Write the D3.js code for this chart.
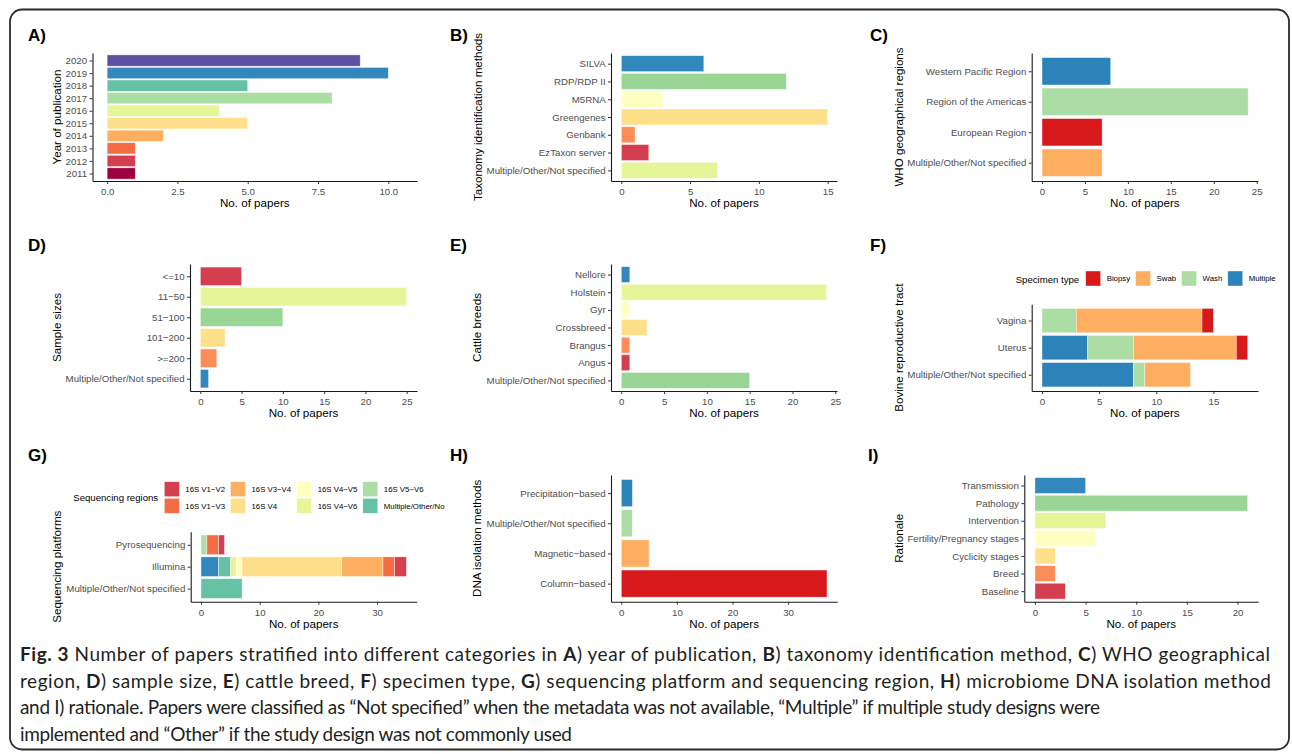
<!DOCTYPE html>
<html>
<head>
<meta charset="utf-8">
<script src="https://cdn.jsdelivr.net/npm/d3@7"></script>
<style>
  body { margin: 0; background: #fff; }
  svg { display: block; }
  text { font-family: "Liberation Sans", Arial, Helvetica, sans-serif; }
  text.caption { font-family: Lato, "Open Sans", sans-serif; }
</style>
</head>
<body>
<div id="fig"></div>
<script>
// ---- data ----
const yearCats = ["2020", "2019", "2018", "2017", "2016", "2015", "2014", "2013", "2012", "2011"];
const yearVals = [9, 10, 5, 8, 4, 5, 2, 1, 1, 1];
const yearTicks = [0, 2.5, 5, 7.5, 10];

const taxCats = ["SILVA", "RDP/RDP II", "M5RNA", "Greengenes", "Genbank", "EzTaxon server", "Multiple/Other/Not specified"];
const taxVals = [6, 12, 3, 15, 1, 2, 7];
const taxTicks = [0, 5, 10, 15];

const whoCats = ["Western Pacific Region", "Region of the Americas", "European Region", "Multiple/Other/Not specified"];
const whoVals = [8, 24, 7, 7];
const whoTicks = [0, 5, 10, 15, 20, 25];

const sizeCats = ["<=10", "11\u221250", "51\u2212100", "101\u2212200", ">=200", "Multiple/Other/Not specified"];
const sizeVals = [5, 25, 10, 3, 2, 1];
const sizeTicks = [0, 5, 10, 15, 20, 25];

const breedCats = ["Nellore", "Holstein", "Gyr", "Crossbreed", "Brangus", "Angus", "Multiple/Other/Not specified"];
const breedVals = [1, 24, 1, 3, 1, 1, 15];
const breedTicks = [0, 5, 10, 15, 20, 25];

const tractCats = ["Vagina", "Uterus", "Multiple/Other/Not specified"];
const specimenTypes = ["Biopsy", "Swab", "Wash", "Multiple"];
const biopsyVals = [1, 1, 0];
const swabVals = [11, 9, 4];
const washVals = [3, 4, 1];
const multiSpecVals = [0, 4, 8];
const tractTicks = [0, 5, 10, 15];

const platformCats = ["Pyrosequencing", "Illumina", "Multiple/Other/Not specified"];
const regionNames = ["16S V1\u2212V2", "16S V1\u2212V3", "16S V3\u2212V4", "16S V4", "16S V4\u2212V5",
                     "16S V4\u2212V6", "16S V5\u2212V6", "Multiple/Other/Not specified", "16S V6\u2212V8"];
const regionVals = [
  [1, 2, 0],   // V1-V2
  [2, 2, 0],   // V1-V3
  [0, 7, 0],   // V3-V4
  [0, 17, 0],  // V4
  [0, 1, 0],   // V4-V5
  [0, 1, 0],   // V4-V6
  [1, 0, 0],   // V5-V6
  [0, 2, 7],   // Multiple/Other/Not specified
  [0, 3, 0]    // last level (its legend entry is cut off in the figure)
];
const platformTicks = [0, 10, 20, 30];

const dnaCats = ["Precipitation\u2212based", "Multiple/Other/Not specified", "Magnetic\u2212based", "Column\u2212based"];
const dnaVals = [2, 2, 5, 37];
const dnaTicks = [0, 10, 20, 30];

const ratCats = ["Transmission", "Pathology", "Intervention", "Fertility/Pregnancy stages", "Cyclicity stages", "Breed", "Baseline"];
const ratVals = [5, 21, 7, 6, 2, 2, 3];
const ratTicks = [0, 5, 10, 15, 20];

const captionLines = [
  [["Fig. 3", 1], [" Number of papers stratified into different categories in ", 0], ["A", 1], [") year of publication, ", 0],
   ["B", 1], [") taxonomy identification method, ", 0], ["C", 1], [") WHO geographical", 0]],
  [["region, ", 0], ["D", 1], [") sample size, ", 0], ["E", 1], [") cattle breed, ", 0], ["F", 1], [") specimen type, ", 0],
   ["G", 1], [") sequencing platform and sequencing region, ", 0], ["H", 1], [") microbiome DNA isolation method", 0]],
  [["and I) rationale. Papers were classified as \u201cNot specified\u201d when the metadata was not available, \u201cMultiple\u201d if multiple study designs were", 0]],
  [["implemented and \u201cOther\u201d if the study design was not commonly used", 0]]
];

// ---- colours (RColorBrewer Spectral) ----
const yearColors = ["#5E4FA2", "#3288BD", "#66C2A5", "#ABDDA4", "#E6F598", "#FEE08B", "#FDAE61", "#F46D43", "#D53E4F", "#9E0142"];
const taxColors = ["#3288BD", "#99D594", "#FFFFBF", "#FEE08B", "#FC8D59", "#D53E4F", "#E6F598"];
const whoColors = ["#2B83BA", "#ABDDA4", "#D7191C", "#FDAE61"];
const sizeColors = ["#D53E4F", "#E6F598", "#99D594", "#FEE08B", "#FC8D59", "#3288BD"];
const breedColors = ["#3288BD", "#E6F598", "#FFFFBF", "#FEE08B", "#FC8D59", "#D53E4F", "#99D594"];
const specimenColors = ["#D7191C", "#FDAE61", "#ABDDA4", "#2B83BA"];
const regionColors = ["#D53E4F", "#F46D43", "#FDAE61", "#FEE08B", "#FFFFBF", "#E6F598", "#ABDDA4", "#66C2A5", "#3288BD"];
const dnaColors = ["#2B83BA", "#ABDDA4", "#FDAE61", "#D7191C"];
const ratColors = ["#3288BD", "#99D594", "#E6F598", "#FFFFBF", "#FEE08B", "#FC8D59", "#D53E4F"];

const W = 1292, H = 754;
const svg = d3.select("#fig").append("svg").attr("width", W).attr("height", H);

// outer frame
svg.append("rect")
  .attr("x", 10).attr("y", 9.5).attr("width", 1279).attr("height", 740)
  .attr("rx", 12).attr("fill", "none").attr("stroke", "#2b2b2b").attr("stroke-width", 1.8);

const tickCol = "#4D4D4D";

function drawPanel(p) {
  const g = svg.append("g");

  // panel letter
  g.append("text").attr("x", p.labelX).attr("y", p.labelY)
    .attr("font-size", 17).attr("font-weight", "bold").attr("fill", "#000").text(p.label);

  const x = d3.scaleLinear().domain(p.xDomain).range([p.left, p.right]);
  const y = d3.scalePoint().domain(p.cats).range([p.top, p.bottom]).padding(0.6);
  const bh = y.step() * 0.9;

  // rows for stacking
  const rows = p.cats.map((c, i) => {
    const r = { cat: c, idx: i };
    p.keys.forEach((k, j) => { r[k] = p.series[j][i]; });
    return r;
  });
  const layers = d3.stack().keys(p.stackOrder)(rows);

  g.append("g").selectAll("g").data(layers).join("g")
    .each(function (layer) {
      const key = layer.key;
      d3.select(this).selectAll("rect")
        .data(layer.filter(d => d[1] - d[0] > 0))
        .join("rect")
        .attr("x", d => x(d[0]))
        .attr("width", d => x(d[1]) - x(d[0]))
        .attr("y", d => y(d.data.cat) - bh / 2)
        .attr("height", bh)
        .attr("fill", d => p.catColors ? p.catColors[d.data.idx] : p.keyColors[p.keys.indexOf(key)])
        .attr("stroke", "#fff").attr("stroke-opacity", 0.7).attr("stroke-width", 0.6);
    });

  // axes
  const xa = g.append("g").attr("transform", `translate(0,${p.bottom})`)
    .call(d3.axisBottom(x).tickValues(p.ticks).tickFormat(p.fmt || d3.format("d"))
      .tickSize(3).tickSizeOuter(0).tickPadding(4.2));
  const ya = g.append("g").attr("transform", `translate(${p.left},0)`)
    .call(d3.axisLeft(y).tickSize(3).tickSizeOuter(0).tickPadding(2.4));

  [xa, ya].forEach(a => {
    a.attr("font-family", null).attr("font-size", null);
    a.select(".domain").attr("stroke", "#1a1a1a").attr("stroke-width", 1.1);
    a.selectAll(".tick line").attr("stroke", "#333").attr("stroke-width", 1);
    a.selectAll(".tick text").attr("fill", tickCol).attr("font-size", 9.7);
  });

  // axis titles
  g.append("text").attr("x", (p.left + p.right) / 2).attr("y", p.bottom + 26)
    .attr("text-anchor", "middle").attr("font-size", 11.6).attr("fill", "#000").text("No. of papers");
  g.append("text")
    .attr("transform", `translate(${p.titleX},${(p.top + p.bottom) / 2}) rotate(-90)`)
    .attr("dy", "0.35em").attr("text-anchor", "middle").attr("font-size", 11.6).attr("fill", "#000")
    .text(p.yTitle);
}

// legend: rows x columns, filled column by column; entries past `clip` are cut like in the figure
function drawLegend(l) {
  const g = svg.append("g");
  const limit = l.clip || W;
  g.append("text").attr("x", l.x).attr("y", l.titleY)
    .attr("font-size", 9.6).attr("fill", "#000").text(l.title);
  const nCols = Math.ceil(l.names.length / l.rows);
  let cx = l.keyX;
  for (let c = 0; c < nCols; c++) {
    if (cx >= limit) break;
    let maxW = 0;
    for (let r = 0; r < l.rows; r++) {
      const i = c * l.rows + r;
      if (i >= l.names.length) break;
      const ky = l.keyY + r * l.rowStep;
      g.append("rect").attr("x", cx).attr("y", ky).attr("width", l.key).attr("height", l.key)
        .attr("fill", l.colors[i]).attr("stroke", "#fff").attr("stroke-opacity", 0.7).attr("stroke-width", 0.6);
      const lx = cx + l.key + 6;
      const t = g.append("text").attr("x", lx).attr("y", ky + l.key / 2)
        .attr("dy", "0.35em").attr("font-size", 7.8).attr("fill", "#000").text(l.names[i]);
      maxW = Math.max(maxW, t.node().getComputedTextLength());
      // cut the label at the panel edge
      let s = l.names[i];
      while (s.length > 0 && lx + t.node().getComputedTextLength() > limit) {
        s = s.slice(0, -1);
        t.text(s);
      }
    }
    cx += l.key + 6 + maxW + 5.5;
  }
}

const fmt1 = d3.format(".1f");

drawPanel({ label: "A)", labelX: 28, labelY: 41, cats: yearCats, keys: ["n"], series: [yearVals], stackOrder: ["n"],
  catColors: yearColors, ticks: yearTicks, fmt: fmt1, xDomain: [-0.52, 11.02],
  left: 92.5, right: 417, top: 53, bottom: 181, titleX: 57, yTitle: "Year of publication" });

drawPanel({ label: "B)", labelX: 450, labelY: 41, cats: taxCats, keys: ["n"], series: [taxVals], stackOrder: ["n"],
  catColors: taxColors, ticks: taxTicks, xDomain: [-0.75, 15.68],
  left: 611, right: 837, top: 53, bottom: 181, titleX: 478, yTitle: "Taxonomy identification methods" });

drawPanel({ label: "C)", labelX: 870, labelY: 41, cats: whoCats, keys: ["n"], series: [whoVals], stackOrder: ["n"],
  catColors: whoColors, ticks: whoTicks, xDomain: [-1.2, 25.15],
  left: 1031.7, right: 1258, top: 53, bottom: 181, titleX: 899, yTitle: "WHO geographical regions" });

drawPanel({ label: "D)", labelX: 28, labelY: 251, cats: sizeCats, keys: ["n"], series: [sizeVals], stackOrder: ["n"],
  catColors: sizeColors, ticks: sizeTicks, xDomain: [-1.25, 26.25],
  left: 190, right: 417, top: 264, bottom: 391, titleX: 57, yTitle: "Sample sizes" });

drawPanel({ label: "E)", labelX: 450, labelY: 251, cats: breedCats, keys: ["n"], series: [breedVals], stackOrder: ["n"],
  catColors: breedColors, ticks: breedTicks, xDomain: [-1.2, 25.2],
  left: 611, right: 837, top: 264, bottom: 391, titleX: 477, yTitle: "Cattle breeds" });

drawPanel({ label: "F)", labelX: 870, labelY: 251, cats: tractCats, keys: specimenTypes,
  series: [biopsyVals, swabVals, washVals, multiSpecVals], stackOrder: specimenTypes.slice().reverse(),
  keyColors: specimenColors, ticks: tractTicks, xDomain: [-0.9, 18.9],
  left: 1031.7, right: 1258, top: 304.3, bottom: 391, titleX: 899, yTitle: "Bovine reproductive tract" });
drawLegend({ title: "Specimen type", names: specimenTypes, colors: specimenColors, rows: 1,
  x: 1015.7, titleY: 282.5, keyX: 1085.7, keyY: 271, key: 15, rowStep: 16.6 });

drawPanel({ label: "G)", labelX: 28, labelY: 461, cats: platformCats, keys: regionNames,
  series: regionVals, stackOrder: regionNames.slice().reverse(),
  keyColors: regionColors, ticks: platformTicks, xDomain: [-1.75, 36.75],
  left: 190.7, right: 416.7, top: 531.7, bottom: 601.7, titleX: 57, yTitle: "Sequencing platforms" });
drawLegend({ clip: 446, title: "Sequencing regions", names: regionNames, colors: regionColors, rows: 2,
  x: 73.3, titleY: 501, keyX: 164.3, keyY: 481.7, key: 15, rowStep: 16.6 });

drawPanel({ label: "H)", labelX: 450, labelY: 461, cats: dnaCats, keys: ["n"], series: [dnaVals], stackOrder: ["n"],
  catColors: dnaColors, ticks: dnaTicks, xDomain: [-1.85, 38.85],
  left: 611, right: 837.3, top: 475, bottom: 601.7, titleX: 477, yTitle: "DNA isolation methods" });

drawPanel({ label: "I)", labelX: 868, labelY: 461, cats: ratCats, keys: ["n"], series: [ratVals], stackOrder: ["n"],
  catColors: ratColors, ticks: ratTicks, xDomain: [-1.05, 22.05],
  left: 1024.3, right: 1258.3, top: 475, bottom: 601.7, titleX: 898.5, yTitle: "Rationale" });

// ---- caption ----
const capWidths = [1250, 1251, 1080, 552];
const cap = svg.append("g");
captionLines.forEach((line, i) => {
  const t = cap.append("text").attr("class", "caption").attr("x", 20).attr("y", 661 + i * 26.7)
    .attr("font-size", 19)
    .attr("fill", "#231F20")
    .attr("textLength", capWidths[i]).attr("lengthAdjust", "spacing");
  line.forEach(seg => {
    t.append("tspan").attr("font-weight", seg[1] ? "bold" : null).text(seg[0]);
  });
});
</script>
</body>
</html>
